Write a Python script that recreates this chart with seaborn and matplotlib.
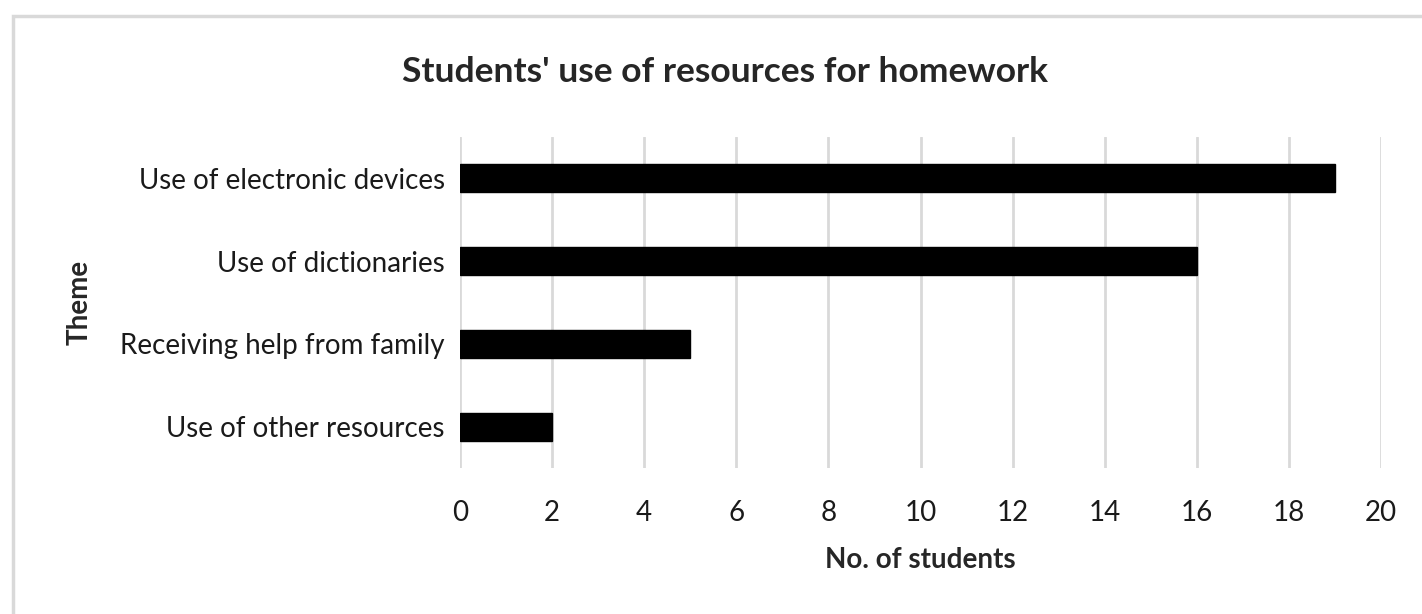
import seaborn as sns
import pandas as pd
import matplotlib.pyplot as plt
from matplotlib.patches import Rectangle

# data
themes = [
    "Use of electronic devices",
    "Use of dictionaries",
    "Receiving help from family",
    "Use of other resources",
]
students = [19, 16, 5, 2]
x_ticks = list(range(0, 21, 2))

df = pd.DataFrame({"Theme": themes, "No. of students": students})

sns.set_style("white")
plt.rcParams["font.family"] = ["Lato", "DejaVu Sans"]

fig = plt.figure(figsize=(14.22, 6.14), dpi=100)
ax = fig.add_axes([460 / 1422, 1 - 468 / 614, 921 / 1422, 331 / 614])

sns.barplot(
    data=df,
    x="No. of students",
    y="Theme",
    color="black",
    width=0.34,
    edgecolor="black",
    saturation=1,
    ax=ax,
)

ax.set_xlim(0, 20)
ax.set_ylim(3.5, -0.5)
ax.set_xticks(x_ticks)
ax.xaxis.grid(True, color="#d9d9d9", linewidth=2)
ax.set_axisbelow(True)
for s in ax.spines.values():
    s.set_visible(False)
ax.tick_params(axis="both", length=0, labelsize=20, colors="#1a1a1a")
ax.tick_params(axis="x", pad=23)
ax.tick_params(axis="y", pad=11)

ax.set_xlabel("No. of students", fontsize=20, fontweight="bold")
ax.set_ylabel("Theme", fontsize=20, fontweight="bold")
ax.xaxis.set_label_coords(0.5, 1 - (560 - 137) / 331)
ax.xaxis.label.set_va("center")
ax.yaxis.set_label_coords((80 - 460) / 921, 0.5)
ax.yaxis.label.set_va("center")

fig.text(725 / 1422, 1 - 72 / 614, "Students' use of resources for homework",
         ha="center", va="center", fontsize=25.5, fontweight="bold")

# light frame around the chart area
fig.patches.append(Rectangle((13 / 1422, -0.1), 1.2, 1 - 16 / 614 + 0.1,
                             transform=fig.transFigure, fill=False,
                             edgecolor="#d9d9d9", linewidth=2.5))

fig.savefig("out.png", dpi=100)
